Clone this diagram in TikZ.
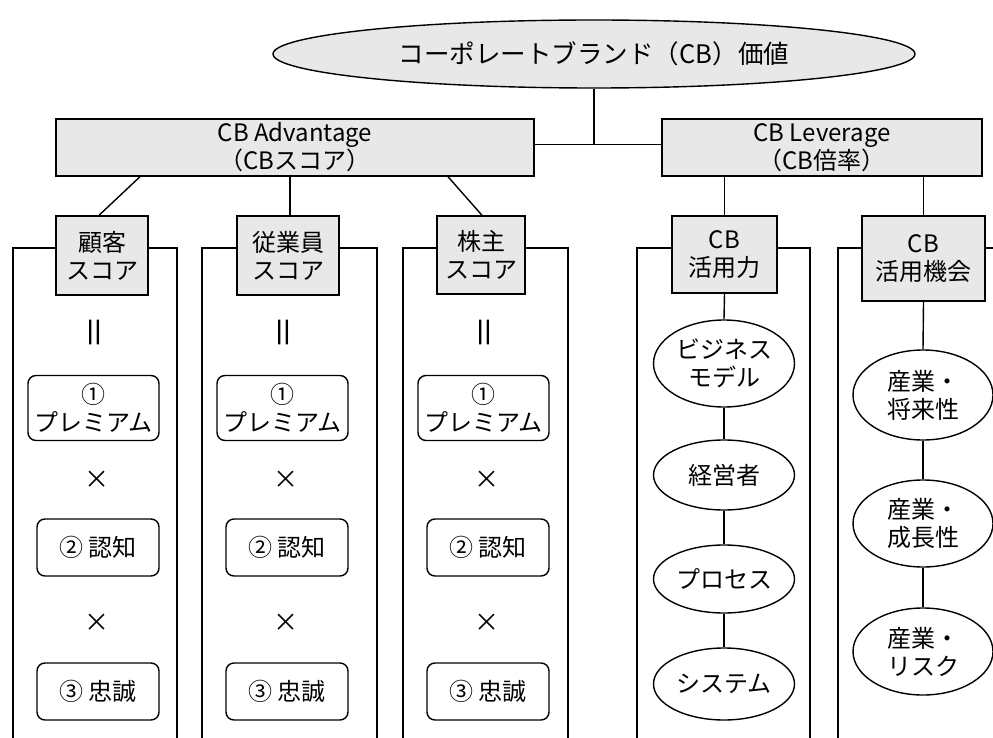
\documentclass[tikz,border=0pt]{standalone}
\usepackage{fontspec}
\setmainfont{Noto Sans CJK JP}
\usetikzlibrary{shapes.geometric}
\definecolor{boxgray}{HTML}{E8E8E8}
\begin{document}
\begin{tikzpicture}[x=1pt,y=-1pt, line width=1.4pt,
  every node/.style={font=\fontsize{24}{28}\selectfont, inner sep=0pt, align=center},
  graybox/.style={draw, fill=boxgray, rectangle},
  topell/.style={draw, fill=boxgray, ellipse, font=\fontsize{25.5}{29}\selectfont},
  rbox/.style={draw, fill=white, rounded corners=8pt, minimum height=57},
  wellipse/.style={draw, fill=white, ellipse, minimum width=141},
  symb/.style={font=\fontsize{25}{28}\selectfont},
  eqsymb/.style={font=\fontsize{34}{36}\selectfont}
]
\clip (0,0) rectangle (993,738);
% top
\node[topell, minimum width=642, minimum height=68] (top) at (594,54) {コーポレートブランド（CB）価値};
\node[graybox, minimum width=478, minimum height=57] (adv) at (295,147.5) {CB Advantage\\（CBスコア）};
\node[graybox, minimum width=320, minimum height=57] (lev) at (822,147.5) {CB Leverage\\（CB倍率）};
\coordinate (j) at ([yshift=3pt]top.south |- adv.east);
\draw (top.south) -- (j);
\draw ([yshift=3pt]adv.east) -- ([yshift=3pt]lev.west);
% column frames
\draw (13,738) -- (13,248) -- (177,248) -- (177,738);
\draw (202,738) -- (202,248) -- (377,248) -- (377,738);
\draw (403,738) -- (403,248) -- (568,248) -- (568,738);
\draw (637,738) -- (637,248) -- (810,248) -- (810,738);
\draw (838,738) -- (838,248) -- (1000,248);
% score boxes
\node[graybox, minimum width=92, minimum height=79] (s1) at (102,255.5) {顧客\\スコア};
\node[graybox, minimum width=102, minimum height=79] (s2) at (288,255.5) {従業員\\スコア};
\node[graybox, minimum width=88, minimum height=78] (s3) at (481,255) {株主\\スコア};
\draw ([xshift=-155pt]adv.south) -- ([xshift=-3pt]s1.north);
\draw ([xshift=-5pt]adv.south) -- ([xshift=2pt]s2.north);
\draw ([xshift=153pt]adv.south) -- ([xshift=1pt]s3.north);
% score formulas
\foreach \dx/\i in {0/1,189/2,390/3}{
  \node[eqsymb] (eq\i) at (99+\dx,332) {\rotatebox{90}{＝}};
  \node[rbox, minimum width=131, minimum height=65] (ra\i) at (93.5+\dx,408) {①\\プレミアム};
  \node[symb] (xa\i) at (97+\dx,480) {×};
  \node[rbox, minimum width=122] (rb\i) at (98+\dx,547.5) {② 認知};
  \node[symb] (xb\i) at (97+\dx,623) {×};
  \node[rbox, minimum width=122] (rc\i) at (98+\dx,691.5) {③ 忠誠};
}
% leverage columns
\node[graybox, minimum width=105, minimum height=77] (c4) at (724.5,254.5) {CB\\活用力};
\node[graybox, minimum width=123, minimum height=85] (c5) at (923.5,258.5) {CB\\活用機会};
\draw (c4.north |- lev.south) -- (c4.north);
\draw (c5.north |- lev.south) -- (c5.north);
\node[wellipse, minimum height=87] (e1) at (724,363.5) {ビジネス\\モデル};
\node[wellipse, minimum height=70] (e2) at (724,475) {経営者};
\node[wellipse, minimum height=68] (e3) at (724,579) {プロセス};
\node[wellipse, minimum height=72] (e4) at (724,684) {システム};
\draw (c4.south) -- (e1.north);
\draw (e1.south) -- (e2.north);
\draw (e2.south) -- (e3.north);
\draw (e3.south) -- (e4.north);
\node[wellipse, minimum width=140, minimum height=90] (e5) at (923,395) {産業・\\将来性};
\node[wellipse, minimum width=140, minimum height=87] (e6) at (923,523.5) {産業・\\成長性};
\node[wellipse, minimum width=140, minimum height=87] (e7) at (923,651.5) {産業・\\リスク};
\draw (c5.south) -- (e5.north);
\draw (e5.south) -- (e6.north);
\draw (e6.south) -- (e7.north);
\end{tikzpicture}
\end{document}
